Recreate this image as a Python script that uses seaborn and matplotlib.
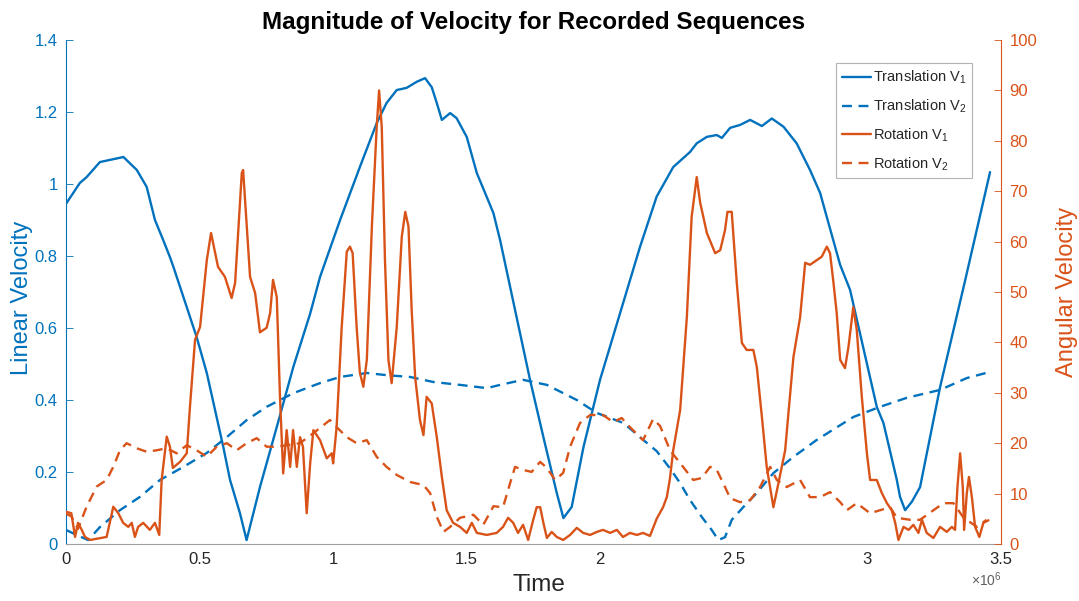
import numpy as np
import matplotlib
matplotlib.use("Agg")
import matplotlib.pyplot as plt
import seaborn as sns

# ---------------- data (time in units of 1e6) ----------------
trans1_t = [0, 0.052, 0.077, 0.127, 0.165, 0.215, 0.265, 0.302, 0.333, 0.364, 0.389, 0.402,
            0.452, 0.489, 0.527, 0.552, 0.589, 0.614, 0.651, 0.676, 0.726, 0.789, 0.851,
            0.914, 0.951, 1.026, 1.10, 1.163, 1.20, 1.238, 1.275, 1.313, 1.344, 1.369,
            1.388, 1.407, 1.438, 1.462, 1.50, 1.538, 1.575, 1.60, 1.625, 1.737, 1.787,
            1.837, 1.862, 1.893, 1.937, 1.999, 2.149, 2.211, 2.273, 2.336, 2.361, 2.399,
            2.436, 2.455, 2.486, 2.523, 2.561, 2.605, 2.642, 2.686, 2.735, 2.785, 2.823,
            2.848, 2.898, 2.935, 3.035, 3.06, 3.11, 3.122, 3.141, 3.166, 3.197, 3.272,
            3.366, 3.459]
trans1_v = [0.945, 1.003, 1.019, 1.061, 1.067, 1.075, 1.039, 0.992, 0.90, 0.844, 0.797, 0.77,
            0.658, 0.575, 0.475, 0.392, 0.269, 0.178, 0.086, 0.011, 0.158, 0.325, 0.492,
            0.64, 0.742, 0.90, 1.047, 1.169, 1.225, 1.261, 1.267, 1.284, 1.294, 1.269,
            1.225, 1.178, 1.197, 1.183, 1.131, 1.03, 0.964, 0.919, 0.844, 0.456, 0.297,
            0.142, 0.072, 0.103, 0.269, 0.456, 0.826, 0.965, 1.047, 1.089, 1.113, 1.131,
            1.136, 1.128, 1.156, 1.164, 1.178, 1.161, 1.182, 1.159, 1.113, 1.039, 0.975,
            0.908, 0.775, 0.706, 0.381, 0.336, 0.178, 0.131, 0.094, 0.117, 0.158, 0.436,
            0.733, 1.033]

trans2_t = [0, 0.04, 0.083, 0.127, 0.202, 0.277, 0.352, 0.439, 0.527, 0.602, 0.676, 0.751,
            0.851, 0.951, 1.026, 1.126, 1.20, 1.288, 1.375, 1.475, 1.575, 1.625, 1.711,
            1.80, 1.912, 1.987, 2.087, 2.161, 2.211, 2.261, 2.299, 2.336, 2.38, 2.417,
            2.442, 2.467, 2.492, 2.536, 2.586, 2.648, 2.723, 2.81, 2.898, 2.948, 3.047,
            3.147, 3.272, 3.372, 3.459]
trans2_v = [0.039, 0.025, 0.011, 0.047, 0.094, 0.131, 0.178, 0.214, 0.253, 0.297, 0.344, 0.381,
            0.419, 0.447, 0.464, 0.475, 0.469, 0.464, 0.45, 0.442, 0.433, 0.442, 0.456,
            0.442, 0.40, 0.364, 0.336, 0.289, 0.258, 0.21, 0.169, 0.122, 0.075, 0.039,
            0.011, 0.019, 0.067, 0.103, 0.142, 0.197, 0.242, 0.289, 0.33, 0.353, 0.381,
            0.406, 0.428, 0.461, 0.478]

rot1_t = [0, 0.02, 0.034, 0.045, 0.059, 0.071, 0.09, 0.152, 0.177, 0.196, 0.214, 0.233, 0.246,
          0.258, 0.27, 0.289, 0.314, 0.333, 0.349, 0.358, 0.377, 0.389, 0.40, 0.427, 0.452,
          0.464, 0.483, 0.502, 0.527, 0.543, 0.569, 0.595, 0.62, 0.633, 0.658, 0.663, 0.689,
          0.708, 0.726, 0.751, 0.764, 0.775, 0.789, 0.801, 0.813, 0.826, 0.839, 0.85, 0.864,
          0.876, 0.887, 0.901, 0.914, 0.926, 0.951, 0.976, 0.995, 1.0, 1.013, 1.032, 1.051,
          1.063, 1.073, 1.088, 1.10, 1.113, 1.126, 1.145, 1.163, 1.172, 1.182, 1.194, 1.207,
          1.219, 1.238, 1.257, 1.27, 1.282, 1.294, 1.307, 1.325, 1.338, 1.35, 1.369, 1.388,
          1.407, 1.425, 1.449, 1.475, 1.50, 1.519, 1.538, 1.575, 1.612, 1.636, 1.655, 1.674,
          1.692, 1.711, 1.73, 1.749, 1.762, 1.775, 1.787, 1.80, 1.818, 1.837, 1.861, 1.887,
          1.912, 1.936, 1.962, 1.987, 2.01, 2.037, 2.062, 2.085, 2.111, 2.137, 2.16, 2.186,
          2.211, 2.235, 2.249, 2.26, 2.273, 2.299, 2.324, 2.342, 2.361, 2.374, 2.399, 2.43,
          2.449, 2.467, 2.476, 2.492, 2.511, 2.53, 2.548, 2.573, 2.586, 2.605, 2.623, 2.648,
          2.667, 2.692, 2.723, 2.748, 2.767, 2.785, 2.81, 2.829, 2.848, 2.86, 2.873, 2.885,
          2.898, 2.916, 2.929, 2.947, 2.96, 2.979, 2.998, 3.01, 3.035, 3.054, 3.073, 3.091,
          3.104, 3.116, 3.135, 3.154, 3.172, 3.191, 3.204, 3.222, 3.247, 3.272, 3.297, 3.316,
          3.328, 3.337, 3.347, 3.357, 3.362, 3.372, 3.38, 3.391, 3.403, 3.419, 3.434, 3.453]
rot1_v = [6.4, 6.1, 1.4, 4.2, 2.8, 1.4, 0.8, 1.4, 7.4, 6.1, 4.2, 3.4, 4.2,
          1.4, 3.4, 4.2, 2.8, 4.2, 1.8, 12.7, 21.3, 19.3, 15.1, 16.3, 18.0,
          27.2, 40.5, 43.1, 56.3, 61.7, 55.0, 53.0, 48.8, 51.8, 73.6, 74.2, 53.0,
          49.8, 42.0, 42.9, 45.8, 52.4, 49.0, 29.2, 14.0, 22.6, 15.3, 22.6, 15.3,
          21.2, 19.3, 6.1, 16.0, 22.6, 20.6, 17.0, 18.0, 16.0, 23.2, 43.0, 58.0,
          59.0, 57.7, 43.0, 34.0, 31.2, 36.5, 63.0, 82.7, 90.0, 82.7, 56.3, 36.5,
          31.9, 43.0, 61.0, 65.9, 63.0, 46.4, 33.1, 24.6, 21.6, 29.2, 27.9, 21.2,
          13.3, 6.7, 4.2, 3.4, 2.2, 4.2, 2.2, 1.8, 2.2, 3.4, 5.2, 4.2,
          2.2, 3.8, 0.8, 4.8, 7.3, 7.3, 4.2, 1.2, 2.4, 1.4, 0.8, 1.8,
          3.2, 2.2, 1.8, 2.4, 2.8, 2.2, 2.8, 1.4, 2.2, 1.8, 2.2, 1.6,
          5.0, 7.3, 9.3, 12.7, 18.6, 26.6, 45.0, 64.9, 72.8, 67.7, 61.7, 57.7,
          58.3, 62.3, 65.9, 65.9, 51.8, 39.9, 38.5, 38.5, 35.1, 25.2, 15.3, 7.3,
          12.1, 18.6, 37.1, 45.0, 55.8, 55.4, 56.3, 57.0, 59.0, 57.7, 51.8, 45.8,
          36.5, 34.9, 39.1, 47.0, 42.5, 29.2, 18.0, 12.7, 12.7, 10.1, 8.1, 6.7,
          4.2, 0.8, 3.4, 2.8, 3.8, 2.2, 4.8, 2.2, 1.2, 3.4, 2.4, 3.4,
          2.8, 11.3, 18.0, 11.3, 2.8, 10.1, 13.3, 9.3, 3.4, 1.4, 4.2, 4.7]

rot2_t = [0, 0.02, 0.045, 0.077, 0.115, 0.152, 0.177, 0.202, 0.227, 0.265, 0.302, 0.34, 0.377,
          0.414, 0.452, 0.489, 0.527, 0.564, 0.602, 0.639, 0.676, 0.714, 0.751, 0.789, 0.876,
          0.926, 0.988, 1.013, 1.051, 1.088, 1.126, 1.163, 1.20, 1.238, 1.288, 1.338, 1.363,
          1.388, 1.413, 1.438, 1.475, 1.525, 1.562, 1.60, 1.636, 1.662, 1.681, 1.711, 1.743,
          1.775, 1.80, 1.831, 1.861, 1.887, 1.924, 1.962, 2.01, 2.048, 2.08, 2.111, 2.16,
          2.198, 2.224, 2.261, 2.31, 2.348, 2.38, 2.411, 2.436, 2.467, 2.486, 2.523, 2.561,
          2.598, 2.636, 2.661, 2.698, 2.748, 2.785, 2.823, 2.86, 2.898, 2.923, 2.96, 3.01,
          3.047, 3.085, 3.11, 3.16, 3.197, 3.247, 3.285, 3.322, 3.36, 3.41, 3.446]
rot2_v = [6.0, 5.5, 3.0, 7.4, 11.4, 12.7, 15.3, 18.6, 20.0, 19.0, 18.3, 18.6, 19.0,
          18.0, 19.6, 18.6, 17.3, 19.3, 20.0, 18.6, 20.0, 21.0, 19.3, 19.3, 20.0,
          22.0, 24.6, 23.2, 21.2, 20.0, 20.6, 17.3, 15.3, 13.7, 12.3, 11.7, 10.1,
          5.4, 2.4, 3.4, 5.2, 5.8, 3.8, 7.5, 7.3, 12.0, 15.3, 14.7, 14.3,
          16.3, 15.1, 12.7, 14.1, 19.3, 24.0, 25.6, 25.6, 24.2, 25.0, 23.2, 20.6,
          24.8, 23.4, 18.6, 15.3, 12.7, 13.1, 15.3, 14.7, 11.3, 9.1, 8.3, 8.7,
          11.3, 15.3, 12.7, 11.3, 12.7, 9.3, 9.3, 10.3, 8.3, 6.7, 8.1, 6.1,
          6.7, 7.3, 5.2, 4.8, 4.8, 6.7, 8.1, 8.1, 5.2, 3.4, 4.8]

x_ticks = [0, 0.5, 1, 1.5, 2, 2.5, 3, 3.5]
x_tick_labels = ["0", "0.5", "1", "1.5", "2", "2.5", "3", "3.5"]
left_ticks = [0, 0.2, 0.4, 0.6, 0.8, 1.0, 1.2, 1.4]
left_tick_labels = ["0", "0.2", "0.4", "0.6", "0.8", "1", "1.2", "1.4"]
right_ticks = [0, 10, 20, 30, 40, 50, 60, 70, 80, 90, 100]
right_tick_labels = [str(v) for v in right_ticks]
series_labels = ["Translation V$_1$", "Translation V$_2$", "Rotation V$_1$", "Rotation V$_2$"]

SCALE = 1e6
BLUE = "#0072BD"
ORANGE = "#D95319"
GRAY = "#262626"

# ---------------- style ----------------
sns.set_style("white")
plt.rcParams["font.family"] = ["Liberation Sans", "DejaVu Sans"]
plt.rcParams["mathtext.fontset"] = "custom"
plt.rcParams["mathtext.rm"] = "Liberation Sans"
plt.rcParams["mathtext.it"] = "Liberation Sans"

W, H = 1079, 601
fig = plt.figure(figsize=(W / 100, H / 100), dpi=100)
L, R, T, B = 66, 1001, 40, 544
ax = fig.add_axes([L / W, 1 - B / H, (R - L) / W, (B - T) / H])
ax2 = ax.twinx()

lw = 1.7
dash = (0, (4.2, 2.8))
sns.lineplot(x=np.array(trans1_t) * SCALE, y=trans1_v, ax=ax, color=BLUE, lw=lw, legend=False, sort=False)
sns.lineplot(x=np.array(trans2_t) * SCALE, y=trans2_v, ax=ax, color=BLUE, lw=lw, linestyle=dash, legend=False, sort=False)
sns.lineplot(x=np.array(rot1_t) * SCALE, y=rot1_v, ax=ax2, color=ORANGE, lw=lw, legend=False, sort=False)
sns.lineplot(x=np.array(rot2_t) * SCALE, y=rot2_v, ax=ax2, color=ORANGE, lw=lw, linestyle=dash, legend=False, sort=False)

ax.set_xlim(0, 3.5 * SCALE)
ax.set_ylim(0, 1.4)
ax2.set_ylim(0, 100)

ax.set_xticks([v * SCALE for v in x_ticks])
ax.set_xticklabels(x_tick_labels)
ax.set_yticks(left_ticks)
ax.set_yticklabels(left_tick_labels)
ax2.set_yticks(right_ticks)
ax2.set_yticklabels(right_tick_labels)
ax.set_xlabel("")
ax.set_ylabel("")
ax2.set_ylabel("")

tick_fs = 12
ax.tick_params(axis="x", direction="in", length=5, width=0.6, colors="#808080", labelcolor=GRAY, labelsize=tick_fs, pad=6)
ax.tick_params(axis="y", direction="in", length=5, width=0.6, colors=BLUE, labelcolor=BLUE, labelsize=tick_fs, pad=6, right=False)
ax2.tick_params(axis="y", direction="in", length=5, width=0.6, colors=ORANGE, labelcolor=ORANGE, labelsize=tick_fs, pad=6)

for a in (ax, ax2):
    a.spines["top"].set_visible(False)
    a.spines["left"].set_color(BLUE)
    a.spines["right"].set_color(ORANGE)
    a.spines["bottom"].set_color("#a0a0a0")
    for s in a.spines.values():
        s.set_linewidth(0.8)
ax.spines["right"].set_visible(False)
ax2.spines["left"].set_visible(False)
ax2.spines["bottom"].set_visible(False)

handles = ax.get_lines()[:2] + ax2.get_lines()[:2]
leg = ax2.legend(handles, series_labels, loc="upper right", bbox_to_anchor=((972 - L) / (R - L), (B - 63) / (B - T)),
                 borderaxespad=0, fontsize=10.5, frameon=True, fancybox=False, edgecolor="#a0a0a0",
                 handlelength=2.0, handletextpad=0.1, labelspacing=0.78, borderpad=0.4)
leg.get_frame().set_linewidth(0.8)
leg.get_frame().set_facecolor("white")
for t in leg.get_texts():
    t.set_color(GRAY)

fig.text((L + R) / 2 / W, 1 - 22 / H, "Magnitude of Velocity for Recorded Sequences",
         ha="center", va="center", fontsize=17.5, fontweight="bold", color="black")
fig.text(539 / W, 1 - 585 / H, "Time", ha="center", va="center", fontsize=17.5, color=GRAY)
fig.text(22 / W, 1 - 298 / H, "Linear Velocity", ha="center", va="center", rotation=90, fontsize=17, color=BLUE)
fig.text(1067 / W, 1 - 292 / H, "Angular Velocity", ha="center", va="center", rotation=90, fontsize=17, color=ORANGE)
fig.text(986 / W, 1 - 580 / H, "\u00d710$^{6}$", ha="center", va="center", fontsize=10, color="#606060")

fig.savefig("out.png", dpi=100)
